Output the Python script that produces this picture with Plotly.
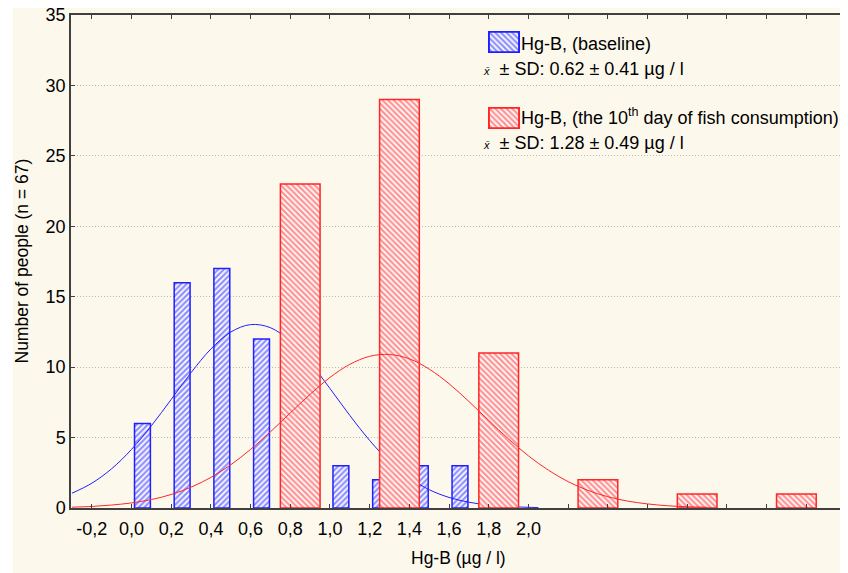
import plotly.graph_objects as go

# ---------------- data ----------------
baseline_x = [0.055, 0.255, 0.455, 0.655, 0.855, 1.055, 1.255, 1.455, 1.655]
baseline_counts = [6, 16, 17, 12, 5, 3, 2, 3, 3]

day10_x = [0.85, 1.35, 1.85, 2.35, 2.85, 3.35]
day10_counts = [23, 29, 11, 2, 1, 1]

# fitted normal curves
baseline_curve_x = [-0.3, -0.2, -0.1, 0.0, 0.1, 0.2, 0.3, 0.4, 0.5, 0.6, 0.7, 0.8, 0.9, 1.0,
                    1.1, 1.2, 1.3, 1.4, 1.5, 1.6, 1.7, 1.8, 1.9, 2.0, 2.05]
baseline_curve_y = [1.05, 1.76, 2.79, 4.16, 5.84, 7.71, 9.61, 11.29, 12.49, 13.02, 12.80, 11.84,
                    10.33, 8.48, 6.57, 4.79, 3.29, 2.14, 1.30, 0.75, 0.41, 0.21, 0.10, 0.05, 0.03]

day10_curve_x = [-0.3, -0.2, -0.1, 0.0, 0.1, 0.2, 0.3, 0.4, 0.5, 0.6, 0.7, 0.8, 0.9, 1.0, 1.1,
                 1.2, 1.3, 1.4, 1.5, 1.6, 1.7, 1.8, 1.9, 2.0, 2.1, 2.2, 2.3, 2.4, 2.5, 2.6,
                 2.7, 2.8, 2.9]
day10_curve_y = [0.06, 0.11, 0.21, 0.36, 0.60, 0.96, 1.48, 2.17, 3.07, 4.16, 5.41, 6.75, 8.07,
                 9.27, 10.20, 10.77, 10.90, 10.59, 9.86, 8.82, 7.56, 6.21, 4.90, 3.70, 2.69,
                 1.87, 1.25, 0.80, 0.49, 0.29, 0.16, 0.09, 0.05]

x_tick_positions = [-0.2, 0.0, 0.2, 0.4, 0.6, 0.8, 1.0, 1.2, 1.4, 1.6, 1.8, 2.0]
x_tick_labels = ["-0,2", "0,0", "0,2", "0,4", "0,6", "0,8", "1,0", "1,2", "1,4", "1,6",
                 "1,8", "2,0"]
y_tick_positions = [0, 5, 10, 15, 20, 25, 30, 35]

legend_baseline = "Hg-B, (baseline)"
legend_day10 = "Hg-B, (the 10<sup>th</sup> day of fish consumption)"
sd_baseline = "± SD: 0.62 ± 0.41 µg / l"
sd_day10 = "± SD: 1.28 ± 0.49 µg / l"
x_title = "Hg-B (µg / l)"
y_title = "Number of people (n = 67)"

# ---------------- layout helpers ----------------
# page is rendered with an 8px body margin, so the figure starts at page (8, 8)
OFF = 8
W, H = 848 - OFF, 573 - OFF
L, R, T, B = 71, 846, 15, 508   # plot area in page pixels


def px_x(p):
    return (p - L) / (R - L)


def px_y(p):
    return (B - p) / (B - T)


BLUE = "#2020ff"
RED = "#ff2626"
FONT = "Arial, Liberation Sans, sans-serif"
AX = "#404040"

fig = go.Figure()

fig.add_trace(go.Bar(
    x=baseline_x, y=baseline_counts, width=0.08,
    marker=dict(color="white", line=dict(color=BLUE, width=1.5),
                pattern=dict(shape="/", fgcolor=BLUE, bgcolor="white", size=4, solidity=0.55)),
    xaxis="x", yaxis="y", showlegend=False))
fig.add_trace(go.Scatter(
    x=baseline_curve_x, y=baseline_curve_y, mode="lines", line=dict(color=BLUE, width=1, shape="spline"),
    xaxis="x", yaxis="y", showlegend=False))

fig.add_trace(go.Bar(
    x=day10_x, y=day10_counts, width=0.2,
    marker=dict(color="white", line=dict(color=RED, width=1.5),
                pattern=dict(shape="\\", fgcolor=RED, bgcolor="white", size=4, solidity=0.55)),
    xaxis="x2", yaxis="y2", showlegend=False))
fig.add_trace(go.Scatter(
    x=day10_curve_x, y=day10_curve_y, mode="lines", line=dict(color=RED, width=1, shape="spline"),
    xaxis="x2", yaxis="y2", showlegend=False))

# legend swatches
fig.add_trace(go.Bar(
    x=[0], y=[1], width=1,
    marker=dict(color="white", line=dict(color=BLUE, width=2),
                pattern=dict(shape="\\", fgcolor=BLUE, bgcolor="white", size=4, solidity=0.55)),
    xaxis="x3", yaxis="y3", showlegend=False, hoverinfo="skip"))
fig.add_trace(go.Bar(
    x=[0], y=[1], width=1,
    marker=dict(color="white", line=dict(color=RED, width=2),
                pattern=dict(shape="\\", fgcolor=RED, bgcolor="white", size=4, solidity=0.55)),
    xaxis="x4", yaxis="y4", showlegend=False, hoverinfo="skip"))

XR = [-0.305, 3.6]
YR = [0, 35]

fig.update_layout(
    width=W, height=H,
    margin=dict(l=L - OFF, r=848 - R, t=T - OFF, b=573 - B, autoexpand=False),
    paper_bgcolor="white", plot_bgcolor="white",
    barmode="overlay",
    font=dict(family=FONT, size=18, color="black"),
    xaxis=dict(range=XR, tickmode="array", tickvals=x_tick_positions, ticktext=x_tick_labels,
               ticks="inside", ticklen=4, tickcolor=AX, mirror="ticks", showline=True,
               linecolor=AX, linewidth=1.5, showgrid=False, zeroline=False, automargin=False,
               minor=dict(dtick=0.2, tick0=0, ticks="inside", ticklen=4, tickcolor=AX, showgrid=False),
               tickfont=dict(size=18), ticklabelstandoff=4, fixedrange=True),
    yaxis=dict(range=YR, tickmode="array", tickvals=y_tick_positions,
               ticks="inside", ticklen=4, tickcolor=AX, mirror="ticks", showline=True,
               linecolor=AX, linewidth=1.5, showgrid=True, gridcolor="#b8b8b8",
               griddash="1px,2px", gridwidth=1, zeroline=False, tickfont=dict(size=18),
               ticklabeloverflow="allow", automargin=False, fixedrange=True),
    xaxis2=dict(range=XR, overlaying="x", visible=False, automargin=False, fixedrange=True),
    yaxis2=dict(range=YR, overlaying="y", visible=False, automargin=False, fixedrange=True),
    xaxis3=dict(domain=[px_x(488), px_x(520)], range=[-0.53, 0.53], visible=False, anchor="y3",
                automargin=False, fixedrange=True),
    yaxis3=dict(domain=[px_y(53), px_y(31)], range=[-0.04, 1.04], visible=False, anchor="x3",
                automargin=False, fixedrange=True),
    xaxis4=dict(domain=[px_x(488), px_x(520)], range=[-0.53, 0.53], visible=False, anchor="y4",
                automargin=False, fixedrange=True),
    yaxis4=dict(domain=[px_y(129), px_y(107)], range=[-0.04, 1.04], visible=False, anchor="x4",
                automargin=False, fixedrange=True),
    shapes=[dict(type="rect", xref="paper", yref="paper", layer="below",
                 x0=px_x(13), x1=px_x(860), y0=px_y(590), y1=px_y(8),
                 fillcolor="#fdf8ec", line=dict(width=0))],
)

xbar = "<span style='font-size:11px'><i>x̄</i></span>  "
fig.add_annotation(xref="paper", yref="paper", x=px_x(519), y=px_y(44), xanchor="left",
                   yanchor="middle", text=legend_baseline, showarrow=False, font=dict(size=18))
fig.add_annotation(xref="paper", yref="paper", x=px_x(481), y=px_y(69), xanchor="left",
                   yanchor="middle", text=xbar + sd_baseline, showarrow=False, font=dict(size=18))
fig.add_annotation(xref="paper", yref="paper", x=px_x(519), y=px_y(117), xanchor="left",
                   yanchor="middle", text=legend_day10, showarrow=False, font=dict(size=18))
fig.add_annotation(xref="paper", yref="paper", x=px_x(481), y=px_y(143), xanchor="left",
                   yanchor="middle", text=xbar + sd_day10, showarrow=False, font=dict(size=18))

fig.add_annotation(xref="paper", yref="paper", x=0.5, y=px_y(558), xanchor="center",
                   yanchor="middle", text=x_title, showarrow=False, font=dict(size=17.5))
fig.add_annotation(xref="paper", yref="paper", x=px_x(21), y=0.5, xanchor="center",
                   yanchor="middle", text=y_title, textangle=-90, showarrow=False,
                   font=dict(size=17.5))

fig.write_html("out.html")
